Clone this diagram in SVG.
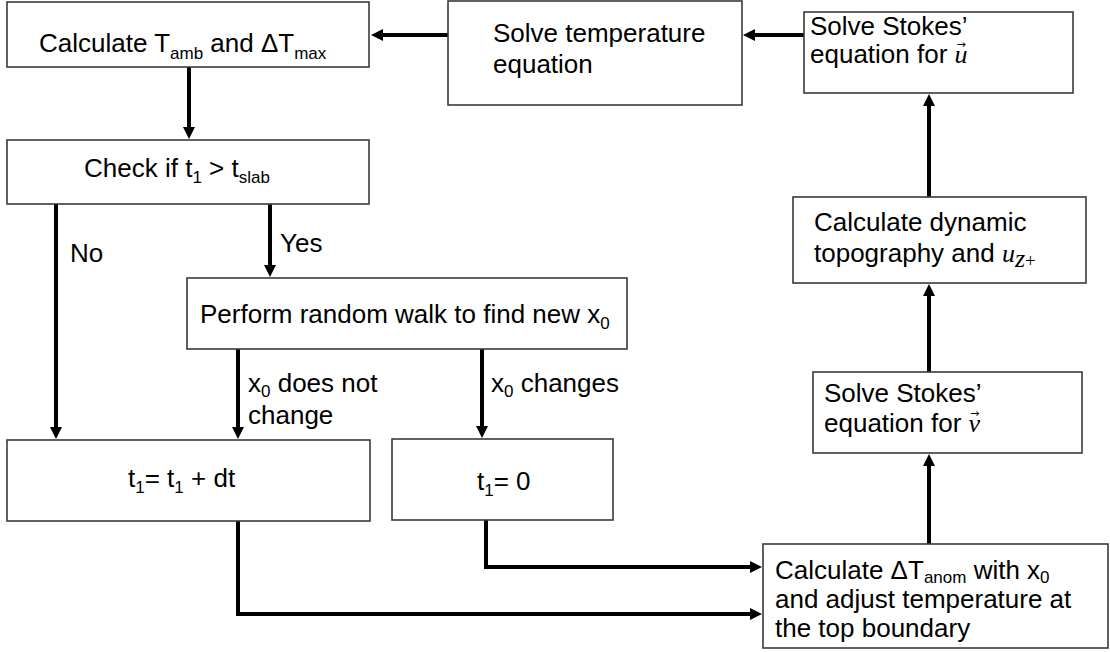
<svg xmlns="http://www.w3.org/2000/svg" width="1110" height="652" viewBox="0 0 1110 652">
<style>
  .box{fill:#fff;stroke:#3a3a3a;stroke-width:1.6}
  .t{font-family:"Liberation Sans",Arial,sans-serif;font-size:26px;fill:#000}
  .sub{font-size:17px}
  .m{font-family:"Liberation Serif","Times New Roman",serif;font-style:italic;font-size:26px}
  .vec{font-family:"DejaVu Sans",sans-serif;font-size:11px;font-style:normal}
  .c{fill:none;stroke:#000;stroke-width:4}
</style>
<defs>
  <marker id="ah" markerUnits="userSpaceOnUse" markerWidth="13" markerHeight="13" refX="2" refY="6" orient="auto">
    <path d="M0,0 L12,6 L0,12 z" fill="#000"/>
  </marker>
</defs>
<rect width="1110" height="652" fill="#fff"/>
<g id="connectors">
  <line class="c" x1="804" y1="35" x2="753" y2="35" marker-end="url(#ah)"/>
  <line class="c" x1="448" y1="35" x2="381" y2="35" marker-end="url(#ah)"/>
  <line class="c" x1="189" y1="67" x2="189" y2="129" marker-end="url(#ah)"/>
  <line class="c" x1="56" y1="204" x2="56" y2="429" marker-end="url(#ah)"/>
  <line class="c" x1="270" y1="204" x2="270" y2="267" marker-end="url(#ah)"/>
  <line class="c" x1="238" y1="349" x2="238" y2="429" marker-end="url(#ah)"/>
  <line class="c" x1="482" y1="349" x2="482" y2="428" marker-end="url(#ah)"/>
  <polyline class="c" points="238,521 238,614 752,614" marker-end="url(#ah)"/>
  <polyline class="c" points="486,520 486,567 752,567" marker-end="url(#ah)"/>
  <line class="c" x1="929" y1="544" x2="929" y2="464" marker-end="url(#ah)"/>
  <line class="c" x1="929" y1="372" x2="929" y2="294" marker-end="url(#ah)"/>
  <line class="c" x1="929" y1="197" x2="929" y2="104" marker-end="url(#ah)"/>
  <text class="t" x="70" y="262">No</text>
  <text class="t" x="280" y="252">Yes</text>
  <text class="t" x="248" y="392">x<tspan class="sub" dy="5">0</tspan><tspan dy="-5">  does not</tspan></text>
  <text class="t" x="248" y="424">change</text>
  <text class="t" x="491" y="392">x<tspan class="sub" dy="5">0</tspan><tspan dy="-5">  changes</tspan></text>
</g>
<g id="calc-tamb">
  <rect class="box" x="7" y="2" width="362" height="65"/>
  <text class="t" x="39" y="52">Calculate T<tspan class="sub" dy="7">amb</tspan><tspan dy="-7"> and ΔT</tspan><tspan class="sub" dy="7">max</tspan></text>
</g>
<g id="solve-temp">
  <rect class="box" x="448" y="1" width="294" height="104"/>
  <text class="t" x="493" y="42">Solve temperature</text>
  <text class="t" x="493" y="73">equation</text>
</g>
<g id="solve-stokes-u">
  <rect class="box" x="804" y="12" width="269" height="81"/>
  <text class="t" x="810" y="35">Solve Stokes’</text>
  <text class="t" x="810" y="63">equation for <tspan class="m">u</tspan><tspan class="vec" dx="-11" dy="-15">→</tspan></text>
</g>
<g id="check-t1">
  <rect class="box" x="7" y="140" width="362" height="64"/>
  <text class="t" x="84" y="177">Check if t<tspan class="sub" dy="6">1</tspan><tspan dy="-6"> &gt; t</tspan><tspan class="sub" dy="6">slab</tspan></text>
</g>
<g id="random-walk">
  <rect class="box" x="187" y="278" width="440" height="71"/>
  <text class="t" x="200" y="323">Perform random walk to find new x<tspan class="sub" dy="6">0</tspan></text>
</g>
<g id="calc-dyn-topo">
  <rect class="box" x="793" y="197" width="293" height="86"/>
  <text class="t" x="814" y="231">Calculate dynamic</text>
  <text class="t" x="814" y="262">topography and <tspan class="m">u</tspan><tspan class="m" font-size="19" dy="5">z</tspan><tspan font-family="Liberation Serif,serif" font-size="19">+</tspan></text>
</g>
<g id="solve-stokes-v">
  <rect class="box" x="813" y="372" width="269" height="81"/>
  <text class="t" x="824" y="402">Solve Stokes’</text>
  <text class="t" x="824" y="432">equation for <tspan class="m">v</tspan><tspan class="vec" dx="-10" dy="-15">→</tspan></text>
</g>
<g id="t1-plus-dt">
  <rect class="box" x="7" y="440" width="363" height="81"/>
  <text class="t" x="128" y="487">t<tspan class="sub" dy="6">1</tspan><tspan dy="-6">= t</tspan><tspan class="sub" dy="6">1</tspan><tspan dy="-6"> + dt</tspan></text>
</g>
<g id="t1-zero">
  <rect class="box" x="392" y="439" width="221" height="81"/>
  <text class="t" x="477" y="490">t<tspan class="sub" dy="6">1</tspan><tspan dy="-6">= 0</tspan></text>
</g>
<g id="calc-anom">
  <rect class="box" x="763" y="544" width="345" height="104"/>
  <text class="t" x="775" y="579">Calculate ΔT<tspan class="sub" font-size="16" dy="4">anom</tspan><tspan dy="-4"> with x</tspan><tspan class="sub" font-size="16" dy="4">0</tspan></text>
  <text class="t" x="775" y="608">and adjust temperature at</text>
  <text class="t" x="775" y="637">the top boundary</text>
</g>
</svg>
